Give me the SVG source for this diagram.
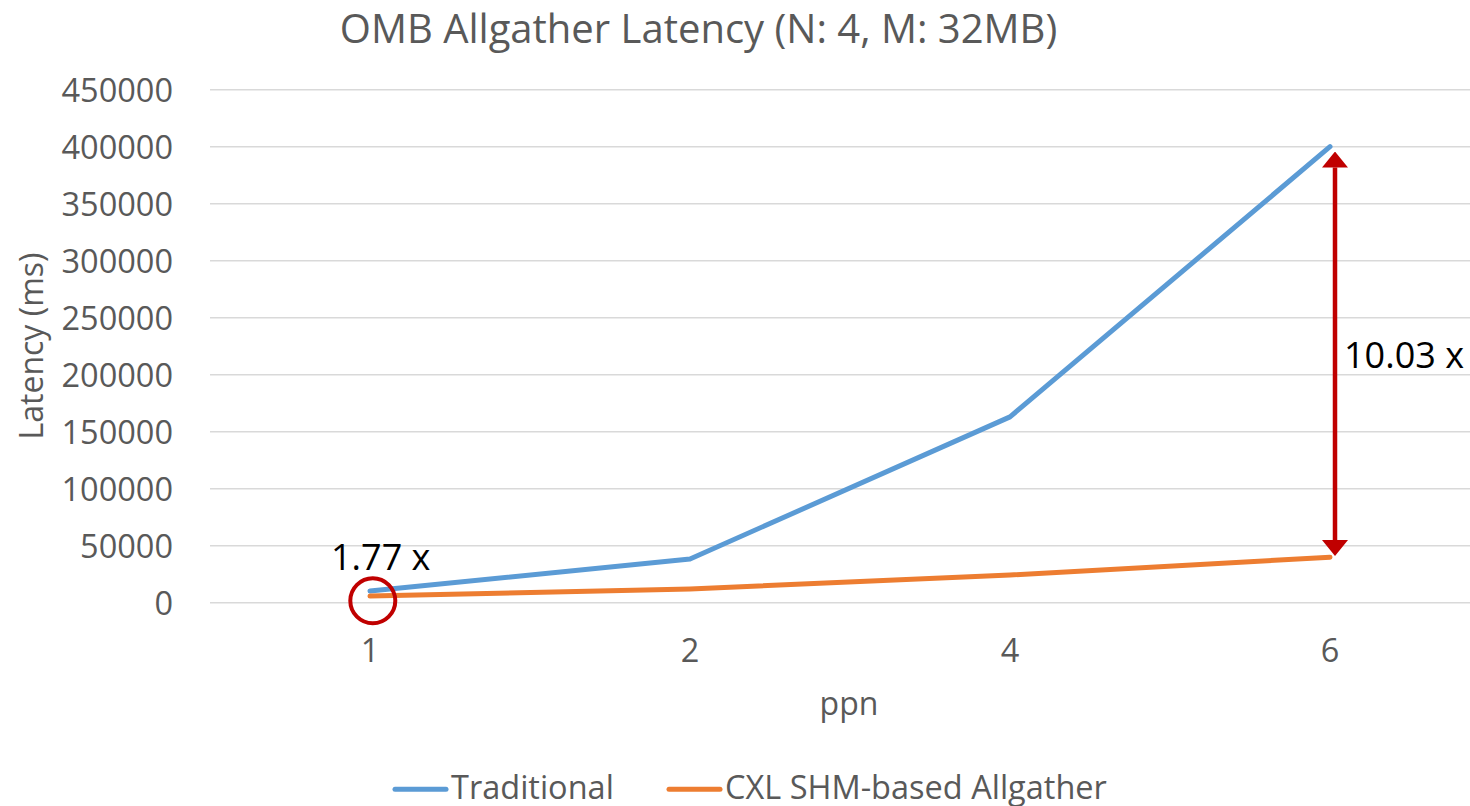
<svg xmlns="http://www.w3.org/2000/svg" width="1470" height="806" viewBox="0 0 1470 806">
  <style>
    text { font-family: "Open Sans", "Noto Sans", "Liberation Sans", sans-serif; fill: #595959; }
    .title { font-size: 40px; }
    .tick { font-size: 32.5px; }
    .axis-title { font-size: 32px; }
    .legend { font-size: 32.5px; }
    .note { font-size: 36px; fill: #000000; }
    .grid line { stroke: #d9d9d9; stroke-width: 1.5; }
    .series { fill: none; stroke-width: 5; stroke-linecap: round; stroke-linejoin: round; }
    .traditional { stroke: #5b9bd5; }
    .cxl { stroke: #ed7d31; }
  </style>
  <defs>
    <marker id="redHead" viewBox="0 0 16 26" refX="0" refY="13" markerWidth="16" markerHeight="26" markerUnits="userSpaceOnUse" orient="auto-start-reverse">
      <path d="M0,0 L16,13 L0,26 Z" fill="#c00000"/>
    </marker>
  </defs>

  <rect x="0" y="0" width="1470" height="806" fill="#ffffff"/>

  <!-- chart title -->
  <text class="title" x="698.5" y="43" text-anchor="middle">OMB Allgather Latency (N: 4, M: 32MB)</text>

  <!-- horizontal gridlines, 50000 per step -->
  <g class="grid">
    <line x1="210" y1="89.7" x2="1470" y2="89.7"/>
    <line x1="210" y1="146.7" x2="1470" y2="146.7"/>
    <line x1="210" y1="203.7" x2="1470" y2="203.7"/>
    <line x1="210" y1="260.7" x2="1470" y2="260.7"/>
    <line x1="210" y1="317.7" x2="1470" y2="317.7"/>
    <line x1="210" y1="374.7" x2="1470" y2="374.7"/>
    <line x1="210" y1="431.7" x2="1470" y2="431.7"/>
    <line x1="210" y1="488.7" x2="1470" y2="488.7"/>
    <line x1="210" y1="545.7" x2="1470" y2="545.7"/>
    <line x1="210" y1="602.7" x2="1470" y2="602.7"/>
  </g>

  <!-- value axis labels -->
  <g id="y-axis" class="tick" text-anchor="end">
    <text x="173" y="101.7">450000</text>
    <text x="173" y="158.7">400000</text>
    <text x="173" y="215.7">350000</text>
    <text x="173" y="272.7">300000</text>
    <text x="173" y="329.7">250000</text>
    <text x="173" y="386.7">200000</text>
    <text x="173" y="443.7">150000</text>
    <text x="173" y="500.7">100000</text>
    <text x="173" y="557.7">50000</text>
    <text x="173" y="614.7">0</text>
  </g>
  <text id="y-title" class="axis-title" transform="translate(43,346) rotate(-90)" text-anchor="middle">Latency (ms)</text>

  <!-- category axis labels -->
  <g id="x-axis" class="tick" text-anchor="middle">
    <text x="370" y="661.5">1</text>
    <text x="690" y="661.5">2</text>
    <text x="1010" y="661.5">4</text>
    <text x="1330" y="661.5">6</text>
  </g>
  <text id="x-title" class="axis-title" x="849" y="715" text-anchor="middle">ppn</text>

  <!-- data series -->
  <g id="series-traditional">
    <polyline class="series traditional" points="370,591 690,559 1010,416.9 1330,146.7"/>
  </g>
  <g id="series-cxl">
    <polyline class="series cxl" points="370,596.1 690,589 1010,575 1330,557.2"/>
  </g>

  <!-- speed-up annotations -->
  <g id="annotation-ppn1">
    <circle cx="372.8" cy="600.7" r="22.5" fill="none" stroke="#c00000" stroke-width="4"/>
    <text class="note" x="331" y="570">1.77 x</text>
  </g>
  <g id="annotation-ppn6">
    <line x1="1335" y1="167.5" x2="1335" y2="540" stroke="#c00000" stroke-width="4.5" marker-start="url(#redHead)" marker-end="url(#redHead)"/>
    <text class="note" x="1344" y="368">10.03 x</text>
  </g>

  <!-- legend -->
  <g id="legend">
    <line x1="395" y1="789.3" x2="446" y2="789.3" stroke="#5b9bd5" stroke-width="5" stroke-linecap="round"/>
    <text class="legend" x="451" y="799">Traditional</text>
    <line x1="669" y1="789.3" x2="720" y2="789.3" stroke="#ed7d31" stroke-width="5" stroke-linecap="round"/>
    <text class="legend" x="725" y="799">CXL SHM-based Allgather</text>
  </g>
</svg>
